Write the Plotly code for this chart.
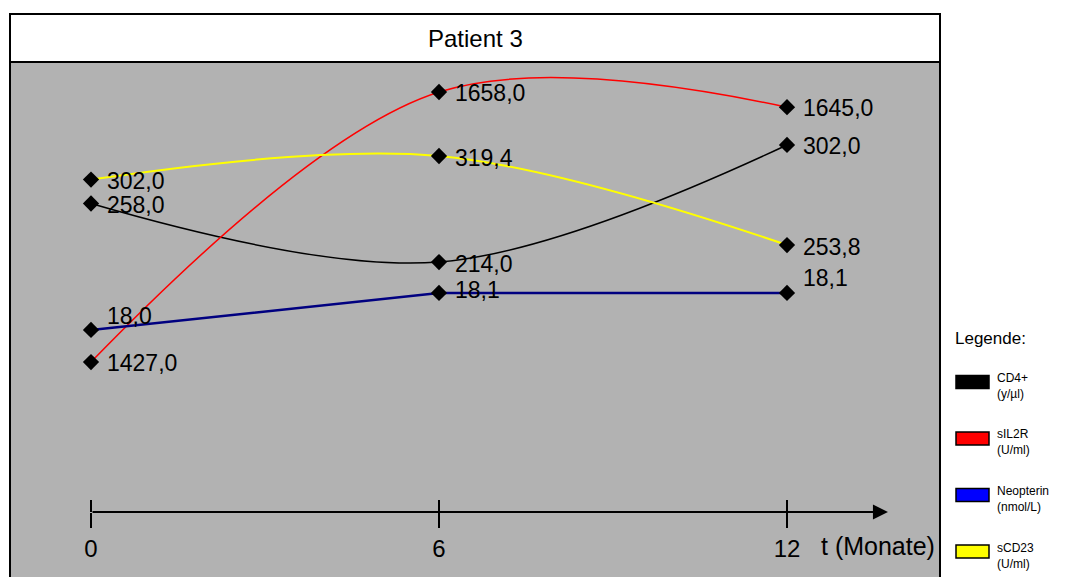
import plotly.graph_objects as go

# ---------------- data ----------------
MONTHS = [0, 6, 12]
TICK_LABELS = ["0", "6", "12"]
CD4 = [258.0, 214.0, 302.0]
SIL2R = [1427.0, 1658.0, 1645.0]
NEOPTERIN = [18.0, 18.1, 18.1]
SCD23 = [302.0, 319.4, 253.8]
SERIES_NAMES = ["CD4+", "sIL2R", "Neopterin", "sCD23"]
SERIES_UNITS = ["(y/µl)", "(U/ml)", "(nmol/L)", "(U/ml)"]
TITLE = "Patient 3"
X_TITLE = "t (Monate)"
LEGEND_TITLE = "Legende:"

# ---------------- style ----------------
W, H = 1067, 577
L, R, T, B = 10, 940, 62, 577
FONT = "Liberation Sans, Arial, sans-serif"
LINE_COLORS = ["#000000", "#ff0000", "#000080", "#ffff00"]
LEGEND_COLORS = ["#000000", "#ff0000", "#0000ff", "#ffff00"]
LINE_WIDTHS = [1.5, 1.5, 2.5, 2]
LINE_SHAPES = ["spline", "spline", "linear", "spline"]
Y_RANGES = [[-22.83, 364.39], [1243.12, 1683.66], [17.3324, 18.7243], [9.16, 388.67]]
LABEL_YSHIFT = [[-1.5, -1.5, -1.5], [-1, -1, -1], [14, 3, 14.5], [-1.5, -1.5, -1.5]]
X_RANGE = [-1.3966, 14.638]
ARROW_END = 13.74
AXIS_PY = 512
LEGEND_CY = [382, 438.5, 495, 551.5]


def px(x):
    return (x - L) / (R - L)


def py(y):
    return (B - y) / (B - T)


def fmt(v):
    return f"{v:.1f}".replace(".", ",")


series = [CD4, SIL2R, NEOPTERIN, SCD23]
yrefs = ["y", "y2", "y3", "y4"]
xrefs = ["x", "x", "x", "x2"]

fig = go.Figure()
annotations = []
for k, vals in enumerate(series):
    fig.add_trace(go.Scatter(
        x=MONTHS, y=vals, xaxis=xrefs[k], yaxis=yrefs[k], name=SERIES_NAMES[k],
        mode="lines+markers",
        line=dict(color=LINE_COLORS[k], width=LINE_WIDTHS[k], shape=LINE_SHAPES[k], smoothing=1),
        marker=dict(symbol="diamond", size=12.5, color="#000000", line=dict(width=0)),
        showlegend=False, hoverinfo="skip",
    ))
    for i, (m, v) in enumerate(zip(MONTHS, vals)):
        annotations.append(dict(
            x=m, y=v, xref=xrefs[k], yref=yrefs[k], text=fmt(v), showarrow=False,
            xanchor="left", yanchor="middle", xshift=14, yshift=LABEL_YSHIFT[k][i],
            font=dict(family=FONT, size=23, color="#000000"),
        ))

# x axis arrow
annotations.append(dict(
    x=ARROW_END, y=py(AXIS_PY), xref="x", yref="paper",
    ax=MONTHS[0], axref="x", ay=0, ayref="pixel",
    text="", showarrow=True, arrowhead=2, arrowsize=1.5, arrowwidth=2,
    arrowcolor="#000000", standoff=0,
))
# x axis title
annotations.append(dict(
    x=px(937), y=py(546), xref="paper", yref="paper", text=X_TITLE, showarrow=False,
    xanchor="right", yanchor="middle", font=dict(family=FONT, size=25, color="#000000"),
))
# chart title
annotations.append(dict(
    x=0.5, y=py(38), xref="paper", yref="paper", text=TITLE, showarrow=False,
    xanchor="center", yanchor="middle", font=dict(family=FONT, size=24, color="#000000"),
))
# legend
annotations.append(dict(
    x=px(953), y=py(338), xref="paper", yref="paper", text=LEGEND_TITLE, showarrow=False,
    xanchor="left", yanchor="middle", font=dict(family=FONT, size=17, color="#000000"),
))
shapes = []
for k in range(len(SERIES_NAMES)):
    cy = LEGEND_CY[k]
    shapes.append(dict(
        type="rect", xref="paper", yref="paper",
        x0=px(956), x1=px(989), y0=py(cy + 6.5), y1=py(cy - 6.5),
        fillcolor=LEGEND_COLORS[k], line=dict(color="#000000", width=1.5), layer="above",
    ))
    annotations.append(dict(
        x=px(995), y=py(cy + 4), xref="paper", yref="paper",
        text=f"{SERIES_NAMES[k]}<br>{SERIES_UNITS[k]}", showarrow=False,
        xanchor="left", yanchor="middle", align="left",
        font=dict(family=FONT, size=12, color="#000000"),
    ))

# frame: title box and plot border
shapes.append(dict(type="rect", xref="paper", yref="paper", x0=0, x1=1, y0=1, y1=py(14),
                   fillcolor="#ffffff", line=dict(color="#000000", width=2), layer="above"))
shapes.append(dict(type="rect", xref="paper", yref="paper", x0=0, x1=1, y0=-0.05, y1=1,
                   fillcolor="rgba(0,0,0,0)", line=dict(color="#000000", width=2), layer="above"))

yaxis_common = dict(visible=False, showgrid=False, zeroline=False, fixedrange=True)
fig.update_layout(
    width=W, height=H,
    margin=dict(l=L, r=W - R, t=T, b=H - B, pad=0),
    paper_bgcolor="#ffffff", plot_bgcolor="#b2b2b2",
    showlegend=False,
    xaxis=dict(range=X_RANGE, anchor="free", position=py(AXIS_PY),
               tickvals=MONTHS, ticktext=TICK_LABELS, ticks="outside", ticklen=15,
               tickwidth=2, tickcolor="#000000", showline=False, showgrid=False,
               zeroline=False, automargin=False,
               tickfont=dict(family=FONT, size=24, color="#000000")),
    xaxis2=dict(range=X_RANGE, overlaying="x", anchor="free", position=py(AXIS_PY),
                tickvals=MONTHS, ticks="inside", ticklen=12, tickwidth=2,
                tickcolor="#000000", showticklabels=False, showline=False,
                showgrid=False, zeroline=False, automargin=False),
    yaxis=dict(range=Y_RANGES[0], **yaxis_common),
    yaxis2=dict(range=Y_RANGES[1], overlaying="y", **yaxis_common),
    yaxis3=dict(range=Y_RANGES[2], overlaying="y", **yaxis_common),
    yaxis4=dict(range=Y_RANGES[3], overlaying="y", **yaxis_common),
    annotations=annotations,
    shapes=shapes,
)

fig.write_html("out.html")
